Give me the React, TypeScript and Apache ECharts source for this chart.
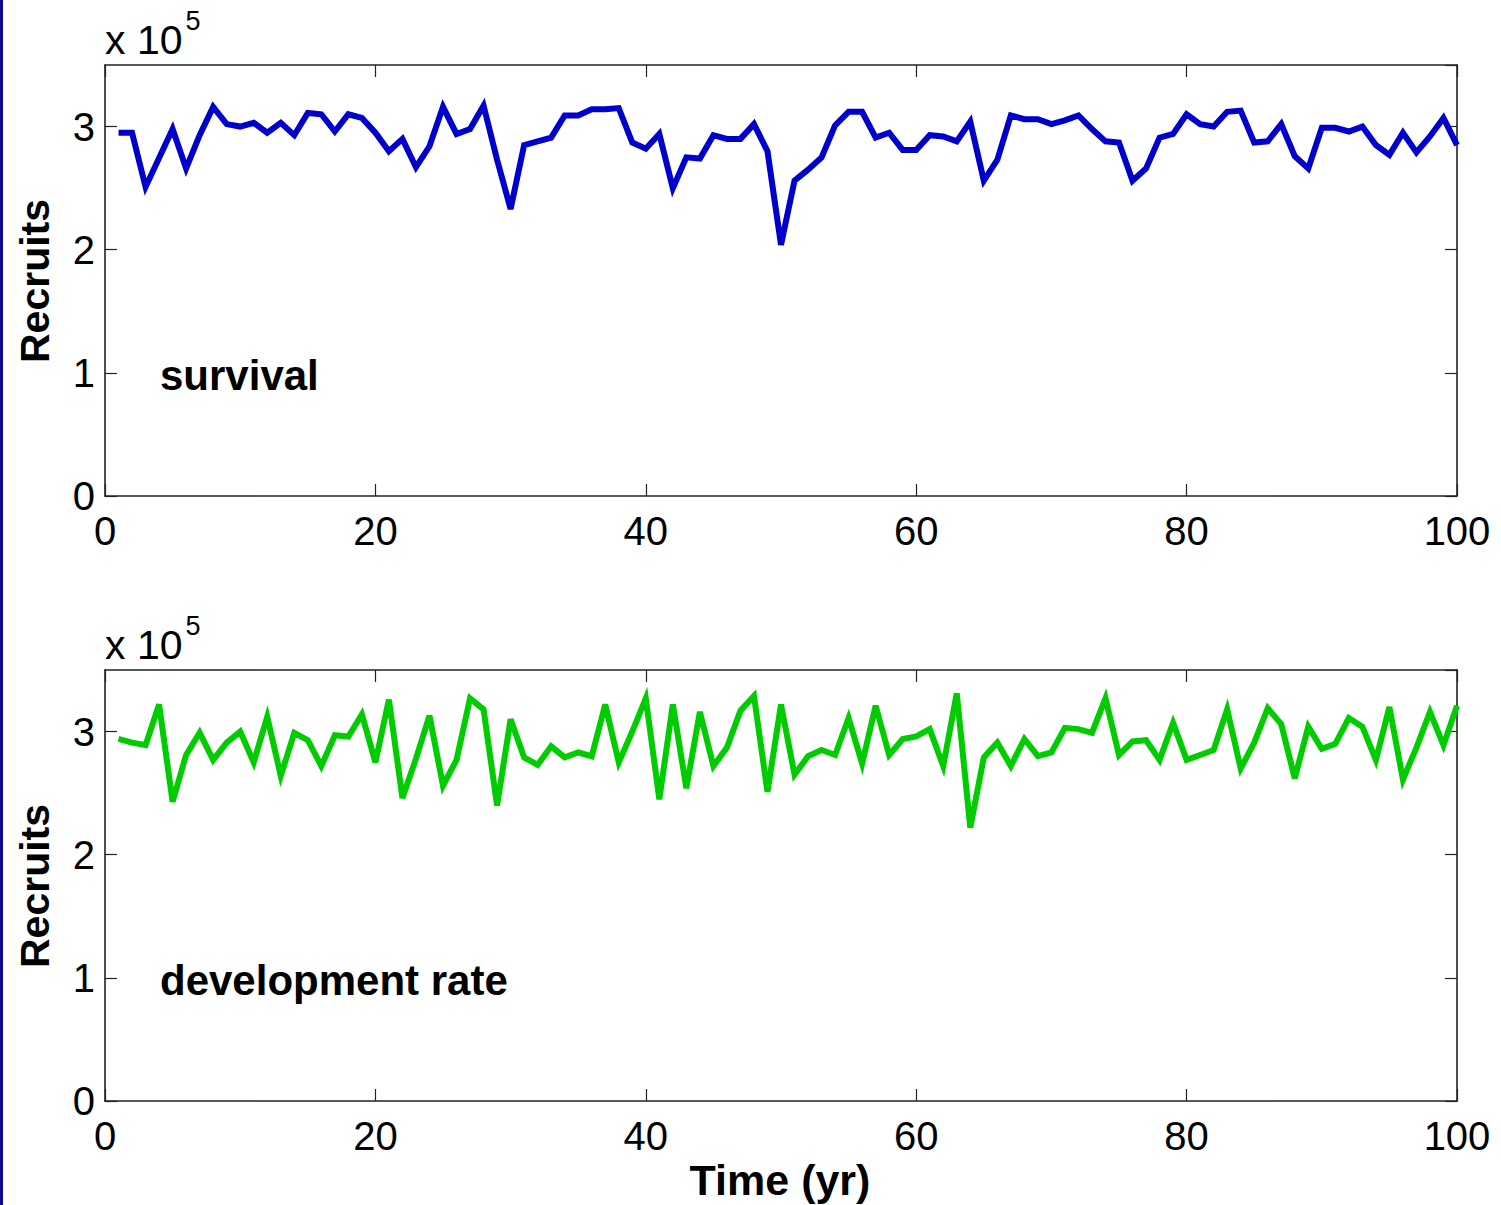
import React, { useEffect, useRef } from "react";
import * as echarts from "echarts";

const years: number[] = Array.from({ length: 100 }, (_, i) => i + 1);

// Recruits (x 10^5) — survival scenario
const survival: number[] = [
  2.95, 2.95, 2.51, 2.745, 2.98, 2.66, 2.93, 3.16, 3.02, 3.0,
  3.03, 2.95, 3.03, 2.93, 3.11, 3.1, 2.96, 3.1, 3.07, 2.95,
  2.8, 2.9, 2.67, 2.84, 3.16, 2.94, 2.98, 3.17, 2.73, 2.33,
  2.85, 2.88, 2.91, 3.09, 3.09, 3.14, 3.14, 3.15, 2.87, 2.82,
  2.94, 2.5, 2.75, 2.74, 2.93, 2.9, 2.9, 3.02, 2.8, 2.04,
  2.56, 2.65, 2.75, 3.01, 3.12, 3.12, 2.91, 2.95, 2.81, 2.81,
  2.93, 2.92, 2.88, 3.04, 2.56, 2.73, 3.09, 3.06, 3.06, 3.02,
  3.05, 3.09, 2.98, 2.88, 2.87, 2.56, 2.66, 2.91, 2.94, 3.1,
  3.02, 3.0, 3.12, 3.13, 2.87, 2.88, 3.02, 2.76, 2.66, 2.99,
  2.99, 2.96, 3.0, 2.85, 2.77, 2.95, 2.79, 2.92, 3.07, 2.85,
];

// Recruits (x 10^5) — development rate scenario
const development: number[] = [
  2.94, 2.91, 2.89, 3.22, 2.43, 2.81, 2.99, 2.77, 2.91, 3.0,
  2.75, 3.12, 2.64, 2.99, 2.93, 2.72, 2.97, 2.96, 3.14, 2.75,
  3.26, 2.46, 2.78, 3.13, 2.56, 2.77, 3.27, 3.18, 2.4, 3.1,
  2.79, 2.73, 2.88, 2.79, 2.83, 2.8, 3.22, 2.75, 3.0, 3.27,
  2.45, 3.22, 2.54, 3.16, 2.72, 2.87, 3.17, 3.29, 2.51, 3.22,
  2.65, 2.8, 2.85, 2.81, 3.11, 2.74, 3.21, 2.81, 2.94, 2.96,
  3.02, 2.72, 3.31, 2.22, 2.79, 2.91, 2.72, 2.94, 2.8, 2.83,
  3.03, 3.02, 2.99, 3.27, 2.81, 2.92, 2.93, 2.77, 3.07, 2.77,
  2.81, 2.85, 3.18, 2.7, 2.91, 3.19, 3.06, 2.62, 3.04, 2.86,
  2.9, 3.11, 3.04, 2.77, 3.2, 2.61, 2.87, 3.16, 2.89, 3.21,
];

const xTicks: number[] = [0, 20, 40, 60, 80, 100];
const yTicks: number[] = [0, 1, 2, 3];
const panelLabels: string[] = ["survival", "development rate"];
const yAxisTitle = "Recruits";
const xAxisTitle = "Time (yr)";

const FONT = "'Liberation Sans', Arial, Helvetica, sans-serif";
const AXIS_COLOR = "#222";

export default function App() {
  const ref = useRef<HTMLDivElement>(null);

  useEffect(() => {
    document.body.style.margin = "0";
    if (!ref.current) return;
    const chart = echarts.init(ref.current, null, { renderer: "svg" });

    const grids = [
      { left: 105, top: 65, width: 1352, height: 431 },
      { left: 105, top: 670, width: 1352, height: 431 },
    ];

    const axisLine = { show: true, onZero: false, lineStyle: { color: AXIS_COLOR, width: 1.6 } };
    const tickStyle = { color: AXIS_COLOR, width: 1.2 };

    const xAxis: any[] = [];
    const yAxis: any[] = [];
    grids.forEach((_, gi) => {
      xAxis.push({
        type: "value",
        gridIndex: gi,
        min: xTicks[0],
        max: xTicks[xTicks.length - 1],
        interval: xTicks[1] - xTicks[0],
        position: "bottom",
        axisLine,
        axisTick: { show: true, inside: true, length: 12, lineStyle: tickStyle },
        axisLabel: {
          show: true,
          margin: 15,
          color: "#000",
          fontSize: 40,
          fontFamily: FONT,
        },
        splitLine: { show: false },
      });
      xAxis.push({
        type: "value",
        gridIndex: gi,
        min: xTicks[0],
        max: xTicks[xTicks.length - 1],
        interval: xTicks[1] - xTicks[0],
        position: "top",
        axisLine,
        axisTick: { show: true, inside: true, length: 12, lineStyle: tickStyle },
        axisLabel: { show: false },
        splitLine: { show: false },
      });
      yAxis.push({
        type: "value",
        gridIndex: gi,
        min: yTicks[0],
        max: 3.5,
        interval: 1,
        position: "left",
        axisLine,
        axisTick: { show: true, inside: true, length: 12, lineStyle: tickStyle },
        axisLabel: {
          show: true,
          margin: 10,
          color: "#000",
          fontSize: 40,
          fontFamily: FONT,
          showMaxLabel: false,
          formatter: (v: number) => (yTicks.includes(v) ? String(v) : ""),
        },
        splitLine: { show: false },
      });
      yAxis.push({
        type: "value",
        gridIndex: gi,
        min: yTicks[0],
        max: 3.5,
        interval: 1,
        position: "right",
        axisLine,
        axisTick: { show: true, inside: true, length: 12, lineStyle: tickStyle },
        axisLabel: { show: false },
        splitLine: { show: false },
      });
    });

    const graphic: any[] = [
      { type: "rect", left: 0, top: 0, shape: { width: 3, height: 1205 }, style: { fill: "#0a0a96" }, z: 100 },
    ];
    const panelTop = [65, 670];
    const panelMid = [281, 886];
    const labelY = [375, 980];
    [0, 1].forEach((i) => {
      graphic.push({
        type: "text",
        x: 105,
        y: panelTop[i] - 5,
        style: {
          text: "{b|x 10}{s|5}",
          rich: {
            b: { fontSize: 41, fontFamily: FONT, fill: "#000", verticalAlign: "bottom" },
            s: { fontSize: 27, fontFamily: FONT, fill: "#000", verticalAlign: "top", padding: [0, 0, 26, 3] },
          },
          textVerticalAlign: "bottom",
        },
      });
      graphic.push({
        type: "text",
        x: 35,
        y: panelMid[i],
        rotation: Math.PI / 2,
        style: {
          text: yAxisTitle,
          fontSize: 41,
          fontWeight: "bold",
          fontFamily: FONT,
          fill: "#000",
          textAlign: "center",
          textVerticalAlign: "middle",
        },
      });
      graphic.push({
        type: "text",
        x: 160,
        y: labelY[i],
        style: {
          text: panelLabels[i],
          fontSize: 42,
          fontWeight: "bold",
          fontFamily: FONT,
          fill: "#000",
          textAlign: "left",
          textVerticalAlign: "middle",
        },
      });
    });
    graphic.push({
      type: "text",
      x: 780,
      y: 1180,
      style: {
        text: xAxisTitle,
        fontSize: 43,
        fontWeight: "bold",
        fontFamily: FONT,
        fill: "#000",
        textAlign: "center",
        textVerticalAlign: "middle",
      },
    });

    chart.setOption({
      animation: false,
      backgroundColor: "#fff",
      grid: grids,
      xAxis,
      yAxis,
      graphic,
      series: [
        {
          type: "line",
          xAxisIndex: 0,
          yAxisIndex: 0,
          data: years.map((t, i) => [t, survival[i]]),
          showSymbol: false,
          lineStyle: { color: "#0000cc", width: 6, join: "miter" },
          clip: false,
        },
        {
          type: "line",
          xAxisIndex: 2,
          yAxisIndex: 2,
          data: years.map((t, i) => [t, development[i]]),
          showSymbol: false,
          lineStyle: { color: "#00cc00", width: 6, join: "miter" },
          clip: false,
        },
      ],
    });

    return () => chart.dispose();
  }, []);

  return <div ref={ref} style={{ width: 1501, height: 1205 }} />;
}
